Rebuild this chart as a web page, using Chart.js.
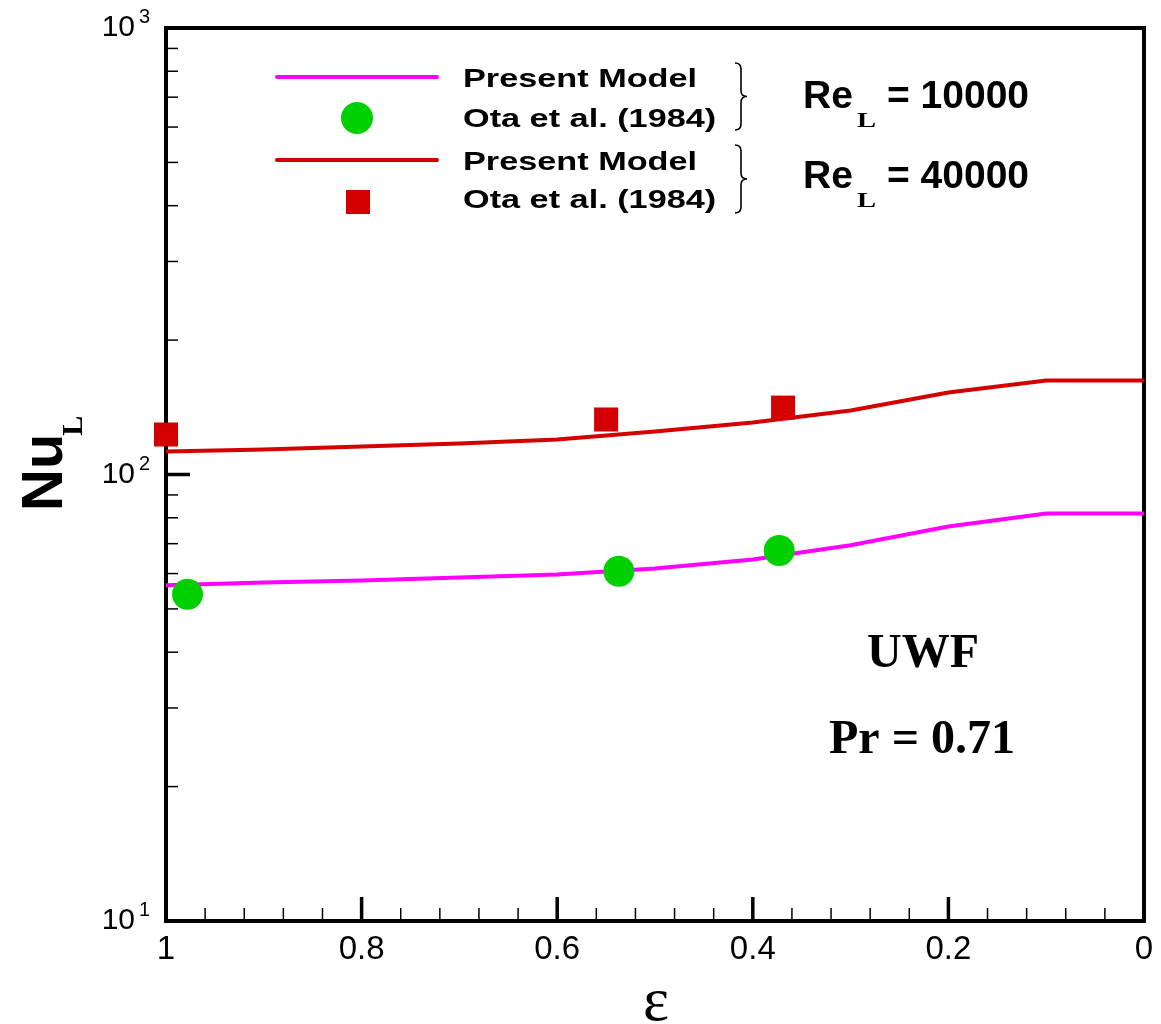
<!DOCTYPE html>
<html>
<head>
<meta charset="utf-8">
<script src="https://cdn.jsdelivr.net/npm/chart.js@4/dist/chart.umd.min.js"></script>
<style>
html,body{margin:0;padding:0;background:#fff;}
#c{display:block;}
</style>
</head>
<body>
<canvas id="c" width="1161" height="1024"></canvas>
<script>
// ---- data ----
const epsModel      = [1, 0.9, 0.8, 0.7, 0.6, 0.5, 0.4, 0.3, 0.2, 0.1, 0];
const nuModelRe10k  = [56.5, 57.3, 57.9, 58.8, 59.7, 61.6, 64.5, 69.4, 76.5, 81.8, 81.8];
const nuModelRe40k  = [112.6, 113.7, 115.5, 117.3, 119.8, 124.8, 130.7, 139.1, 152.6, 162.3, 162.3];
const epsOtaRe10k   = [0.978, 0.537, 0.373];
const nuOtaRe10k    = [53.9, 60.7, 67.6];
const epsOtaRe40k   = [1.0, 0.550, 0.369];
const nuOtaRe40k    = [122.9, 132.8, 141.2];
const xMajorStep    = 0.2;
const xMinorStep    = 0.04;
const yDecades      = [10, 100, 1000];
const legendLabels  = ['Present Model', 'Ota et al. (1984)', 'Present Model', 'Ota et al. (1984)'];
const groupLabels   = ['10000', '40000'];

const COL_MAG = '#FF00FF';
const COL_RED = '#D40000';
const COL_GRN = '#00D000';

function pts(xs, ys){ return xs.map((x,i)=>({x:x, y:ys[i]})); }

const decorPlugin = {
  id:'decor',
  beforeDatasetsDraw(chart){
    const ctx = chart.ctx, a = chart.chartArea;
    const xs = chart.scales.x, ys = chart.scales.y;
    ctx.save();
    ctx.strokeStyle = '#000';
    // y minor / major ticks (inward)
    for (let d = 10; d < 1000; d *= 10){
      for (let m = 1; m <= 9; m++){
        const v = d*m;
        const py = ys.getPixelForValue(v);
        const major = (m === 1);
        if (major && (v === 10)) continue;
        ctx.lineWidth = major ? 3.5 : 1.5;
        ctx.beginPath();
        ctx.moveTo(a.left, py);
        ctx.lineTo(a.left + (major ? 24 : 12), py);
        ctx.stroke();
      }
    }
    // x ticks (inward)
    const nMinor = Math.round(1/xMinorStep);
    const per = Math.round(xMajorStep/xMinorStep);
    for (let i = 1; i < nMinor; i++){
      const v = i*xMinorStep;
      const px = xs.getPixelForValue(v);
      const major = (i % per === 0);
      ctx.lineWidth = major ? 3.5 : 1.5;
      ctx.beginPath();
      ctx.moveTo(px, a.bottom);
      ctx.lineTo(px, a.bottom - (major ? 24 : 13));
      ctx.stroke();
    }
    // frame
    ctx.lineWidth = 4;
    ctx.strokeRect(a.left, a.top, a.right - a.left, a.bottom - a.top);
    ctx.restore();
  },
  afterDraw(chart){
    const ctx = chart.ctx;
    const ys = chart.scales.y;
    ctx.save();
    ctx.fillStyle = '#000';
    ctx.textBaseline = 'alphabetic';

    // exponents of the decade labels
    ctx.font = '20px "Liberation Sans", Arial, sans-serif';
    ctx.textAlign = 'left';
    yDecades.forEach(v=>{
      const py = ys.getPixelForValue(v);
      ctx.fillText(String(Math.round(Math.log10(v))), 139, py - 5);
    });

    // y axis title Nu_L
    ctx.save();
    ctx.translate(62, 511);
    ctx.rotate(-Math.PI/2);
    ctx.font = 'bold 58px "Liberation Sans", Arial, sans-serif';
    ctx.textAlign = 'left';
    ctx.fillText('Nu', 0, 0);
    const wNu = ctx.measureText('Nu').width;
    ctx.font = 'bold 30px "Liberation Serif", "Times New Roman", serif';
    ctx.fillText('L', wNu - 2, 20);
    ctx.restore();

    // x axis title epsilon
    ctx.font = '62px "Liberation Serif", "Times New Roman", serif';
    ctx.textAlign = 'center';
    ctx.fillText('\u03B5', 656, 1020);

    // legend samples
    const lineRows = [{y:77, c:COL_MAG}, {y:160, c:COL_RED}];
    lineRows.forEach(r=>{
      ctx.strokeStyle = r.c; ctx.lineWidth = 4; ctx.lineCap = 'round';
      ctx.beginPath(); ctx.moveTo(277, r.y); ctx.lineTo(437, r.y); ctx.stroke();
    });
    ctx.fillStyle = COL_GRN;
    ctx.beginPath(); ctx.arc(357, 118, 16, 0, Math.PI*2); ctx.fill();
    ctx.fillStyle = COL_RED;
    ctx.fillRect(346, 190, 24, 24);

    // legend text (wide bold)
    ctx.fillStyle = '#000';
    ctx.textAlign = 'left';
    const baselines = [87, 127, 170, 208];
    legendLabels.forEach((t,i)=>{
      ctx.save();
      ctx.translate(463, baselines[i]);
      ctx.scale(1.37, 1);
      ctx.font = 'bold 25px "Liberation Sans", Arial, sans-serif';
      ctx.fillText(t, 0, 0);
      ctx.restore();
    });

    // braces
    function brace(x, y0, y1){
      const ym = (y0+y1)/2, w = 12;
      ctx.beginPath();
      ctx.moveTo(x, y0);
      ctx.quadraticCurveTo(x + w*0.5, y0, x + w*0.5, y0 + 6);
      ctx.lineTo(x + w*0.5, ym - 6);
      ctx.quadraticCurveTo(x + w*0.5, ym, x + w, ym);
      ctx.quadraticCurveTo(x + w*0.5, ym, x + w*0.5, ym + 6);
      ctx.lineTo(x + w*0.5, y1 - 6);
      ctx.quadraticCurveTo(x + w*0.5, y1, x, y1);
      ctx.strokeStyle = '#000'; ctx.lineWidth = 1.6; ctx.lineCap='butt';
      ctx.stroke();
    }
    brace(735, 63, 130);
    brace(735, 145, 213);

    // Re_L labels
    const reBase = [108, 188];
    groupLabels.forEach((g,i)=>{
      const b = reBase[i];
      ctx.font = 'bold 39px "Liberation Sans", Arial, sans-serif';
      ctx.fillText('Re', 803, b);
      ctx.fillText('= ' + g, 887, b);
      ctx.save();
      ctx.translate(857, b + 19);
      ctx.scale(1.3, 1);
      ctx.font = 'bold 22px "Liberation Serif", "Times New Roman", serif';
      ctx.fillText('L', 0, 0);
      ctx.restore();
    });

    // UWF / Pr
    ctx.textAlign = 'center';
    ctx.font = 'bold 48px "Liberation Serif", "Times New Roman", serif';
    ctx.fillText('UWF', 923, 667);
    ctx.fillText('Pr = 0.71', 922, 753);
    ctx.restore();
  }
};

const chart = new Chart(document.getElementById('c'), {
  type: 'scatter',
  data: {
    datasets: [
      { label:'Present Model Re 10000', data: pts(epsModel, nuModelRe10k), showLine:true,
        borderColor: COL_MAG, borderWidth: 4, pointRadius: 0, tension: 0, order: 2, clip: false },
      { label:'Present Model Re 40000', data: pts(epsModel, nuModelRe40k), showLine:true,
        borderColor: COL_RED, borderWidth: 4, pointRadius: 0, tension: 0, order: 2, clip: false },
      { label:'Ota et al. (1984) Re 10000', data: pts(epsOtaRe10k, nuOtaRe10k), showLine:false,
        pointStyle:'circle', pointRadius: 15.5, backgroundColor: COL_GRN, pointBackgroundColor: COL_GRN,
        pointBorderWidth: 0, borderColor: COL_GRN, order: 1, clip: false },
      { label:'Ota et al. (1984) Re 40000', data: pts(epsOtaRe40k, nuOtaRe40k), showLine:false,
        pointStyle:'rect', pointRadius: 17, backgroundColor: COL_RED, pointBackgroundColor: COL_RED,
        pointBorderWidth: 0, borderColor: COL_RED, order: 1, clip: false }
    ]
  },
  options: {
    responsive: false,
    animation: false,
    devicePixelRatio: 1,
    layout: { padding: { top: 28, right: 12, bottom: 0, left: 0 } },
    plugins: { legend: { display: false }, tooltip: { enabled: false } },
    scales: {
      x: {
        type: 'linear', reverse: true, min: 0, max: 1,
        grid: { display: false }, border: { display: false },
        ticks: {
          stepSize: xMajorStep, padding: 1, color: '#000',
          font: { family: '"Liberation Sans", Arial, sans-serif', size: 33 },
          callback: (v)=>{
            if (Math.abs(v) < 1e-9) return '0';
            if (Math.abs(v-1) < 1e-9) return '1';
            return (Math.round(v*10)/10).toFixed(1);
          }
        },
        afterFit: (s)=>{ s.height = 103; s.paddingLeft = 0; s.paddingRight = 0; }
      },
      y: {
        type: 'logarithmic', min: 10, max: 1000,
        grid: { display: false }, border: { display: false },
        ticks: {
          autoSkip: false, padding: 23, color: '#000',
          font: { family: '"Liberation Sans", Arial, sans-serif', size: 30 },
          callback: (v)=> yDecades.includes(v) ? '10' : ''
        },
        afterFit: (s)=>{ s.width = 166; s.paddingTop = 0; s.paddingBottom = 0; }
      }
    }
  },
  plugins: [decorPlugin]
});
</script>
</body>
</html>
